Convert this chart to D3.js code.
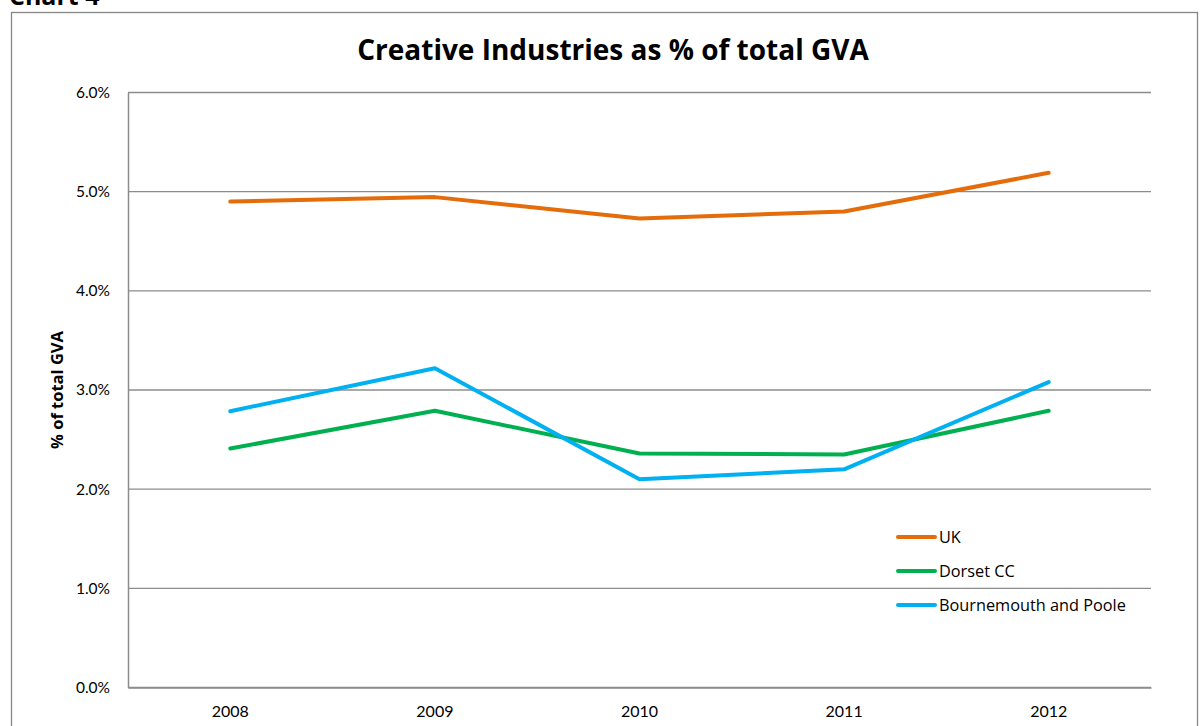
<!DOCTYPE html>
<html>
<head>
<meta charset="utf-8">
<script src="https://cdn.jsdelivr.net/npm/d3@7"></script>
<style>
  html, body { margin: 0; padding: 0; background: #fff; }
  svg { display: block; font-family: "Open Sans", Lato, sans-serif; }
</style>
</head>
<body>
<svg id="chart" width="1200" height="726"></svg>
<script>
// Creative Industries share of total GVA, 2008-2012
const years = ["2008", "2009", "2010", "2011", "2012"];
const ukValues = [4.90, 4.945, 4.73, 4.80, 5.19];
const dorsetValues = [2.41, 2.79, 2.36, 2.35, 2.79];
const bournemouthPooleValues = [2.786, 3.22, 2.10, 2.20, 3.08];
const yTicks = [0, 1, 2, 3, 4, 5, 6];
const seriesNames = ["UK", "Dorset CC", "Bournemouth and Poole"];
const seriesColors = ["#E46C0A", "#00B050", "#00B0F0"];

const series = [
  { name: seriesNames[0], values: ukValues, color: seriesColors[0] },
  { name: seriesNames[1], values: dorsetValues, color: seriesColors[1] },
  { name: seriesNames[2], values: bournemouthPooleValues, color: seriesColors[2] }
];

const svg = d3.select("#chart");
const plot = { left: 128, right: 1151, top: 92.5, bottom: 687.5 };
const tickFont = "Lato, 'Open Sans', sans-serif";

// outer chart frame
svg.append("rect")
  .attr("x", 11.5).attr("y", 12.5)
  .attr("width", 1186).attr("height", 730)
  .attr("fill", "none").attr("stroke", "#878787").attr("stroke-width", 1.3);

// caption above the frame, partly beyond the top edge
svg.append("text")
  .attr("x", 9).attr("y", 5)
  .attr("font-size", 25).attr("font-weight", "bold").attr("fill", "#000")
  .text("Chart 4");

const x = d3.scaleBand().domain(years).range([plot.left, plot.right]);
const y = d3.scaleLinear().domain([0, 6]).range([plot.bottom, plot.top]);

// horizontal gridlines
svg.append("g")
  .selectAll("line")
  .data(yTicks)
  .join("line")
  .attr("x1", plot.left).attr("x2", plot.right)
  .attr("y1", d => y(d)).attr("y2", d => y(d))
  .attr("stroke", "#8c8c8c").attr("stroke-width", 1.3);

// y axis
const yAxis = svg.append("g")
  .attr("transform", `translate(${plot.left},0)`)
  .call(d3.axisLeft(y).tickValues(yTicks).tickSize(0).tickPadding(18)
    .tickFormat(d => d3.format(".1f")(d) + "%"));
yAxis.select(".domain").attr("stroke", "#8c8c8c").attr("stroke-width", 1.5);
yAxis.selectAll("text")
  .attr("font-size", 15.5).attr("fill", "#000")
  .attr("font-family", tickFont);

// x axis
const xAxis = svg.append("g")
  .attr("transform", `translate(0,${plot.bottom})`)
  .call(d3.axisBottom(x).tickSize(0).tickPadding(18));
xAxis.select(".domain").attr("stroke", "#8c8c8c").attr("stroke-width", 1.5);
xAxis.selectAll("text")
  .attr("font-size", 16).attr("fill", "#000")
  .attr("font-family", tickFont);

// y axis title
svg.append("text")
  .attr("transform", `translate(63,${(plot.top + plot.bottom) / 2}) rotate(-90)`)
  .attr("text-anchor", "middle")
  .attr("font-size", 16.5).attr("font-weight", "bold").attr("fill", "#000")
  .text("% of total GVA");

// chart title
svg.append("text")
  .attr("x", 613).attr("y", 60)
  .attr("text-anchor", "middle")
  .attr("font-size", 28).attr("font-weight", "bold").attr("fill", "#000")
  .text("Creative Industries as % of total GVA");

// series lines
const line = d3.line()
  .x((d, i) => x(years[i]) + x.bandwidth() / 2)
  .y(d => y(d));

svg.append("g")
  .selectAll("path")
  .data(series)
  .join("path")
  .attr("d", d => line(d.values))
  .attr("fill", "none")
  .attr("stroke", d => d.color)
  .attr("stroke-width", 4)
  .attr("stroke-linejoin", "round")
  .attr("stroke-linecap", "round");

// legend
const legend = svg.append("g").attr("transform", "translate(898,537)");
const items = legend.selectAll("g")
  .data(series)
  .join("g")
  .attr("transform", (d, i) => `translate(0,${i * 34})`);
items.append("line")
  .attr("x1", 0).attr("x2", 37).attr("y1", 0).attr("y2", 0)
  .attr("stroke", d => d.color).attr("stroke-width", 4)
  .attr("stroke-linecap", "round");
items.append("text")
  .attr("x", 41).attr("y", 0).attr("dy", "0.35em")
  .attr("font-size", 16.3).attr("fill", "#000")
  .text(d => d.name);
</script>
</body>
</html>
